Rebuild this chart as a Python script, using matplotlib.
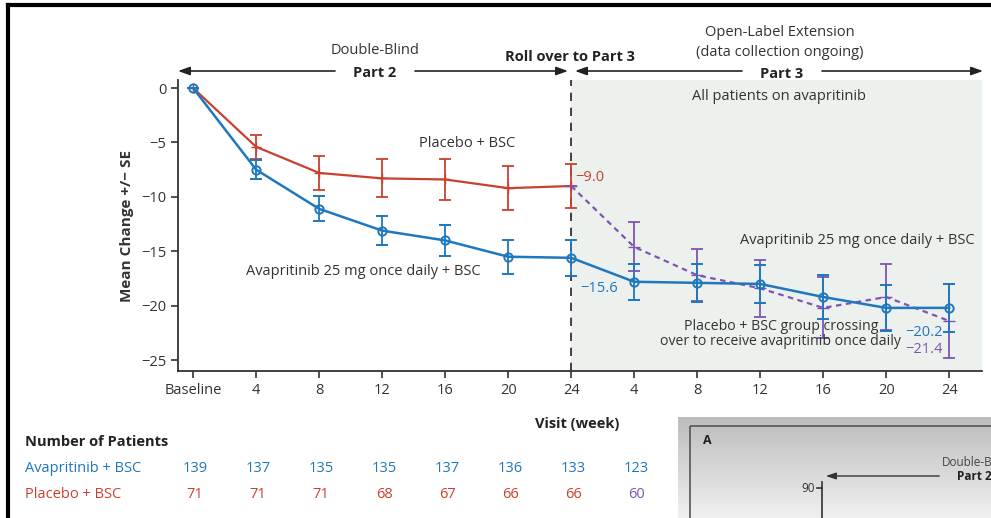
import numpy as np
import matplotlib
matplotlib.use("Agg")
import matplotlib.pyplot as plt
from matplotlib.patches import Rectangle, FancyArrowPatch
from matplotlib.lines import Line2D
from matplotlib.transforms import blended_transform_factory

# ---------------- data ----------------
tick_labels = ['Baseline', '4', '8', '12', '16', '20', '24',
               '4', '8', '12', '16', '20', '24']

# Avapritinib 25 mg + BSC (Part 2 + Part 3)
avap_x = list(range(13))
avap_mean = [0, -7.5, -11.1, -13.1, -14.0, -15.5, -15.6,
             -17.8, -17.9, -18.0, -19.2, -20.2, -20.2]
avap_se = [0, 0.85, 1.15, 1.35, 1.45, 1.55, 1.65,
           1.65, 1.75, 1.75, 2.0, 2.1, 2.2]

# Placebo + BSC (Part 2)
plac_x = list(range(7))
plac_mean = [0, -5.4, -7.8, -8.3, -8.4, -9.2, -9.0]
plac_se = [0, 1.1, 1.55, 1.75, 1.9, 2.05, 2.05]

# Placebo crossing over to avapritinib (Part 3)
cross_x = list(range(6, 13))
cross_mean = [-9.0, -14.6, -17.2, -18.4, -20.2, -19.2, -21.4]
cross_se = [0, 2.25, 2.4, 2.6, 2.8, 3.0, 3.4]

n_avap = [139, 137, 135, 135, 137, 136, 133, 123]
n_plac = [71, 71, 71, 68, 67, 66, 66, 60]

BLUE = '#1f77bd'
RED = '#c8412f'
PURPLE = '#7f54b3'
GREY = '#333333'

plt.rcParams['font.family'] = ['Open Sans', 'DejaVu Sans']
plt.rcParams['font.size'] = 10

W, H = 991, 518
fig = plt.figure(figsize=(W / 100, H / 100), dpi=100)


def fx(x):
    return x / W


def fy(y):
    return 1 - y / H


ax = fig.add_axes([fx(178), fy(371), fx(982) - fx(178), fy(80) - fy(371)])
ax.set_xlim(-0.24, 12.52)
ax.set_ylim(-26.0, 0.74)

# shaded part 3 region and roll-over line
ax.axvspan(6, 12.52, color='#edf1ee', zorder=0, lw=0)
ax.axvline(6, color='#222222', lw=1.2, ls=(0, (5, 4)), zorder=1)

# series
ax.errorbar(plac_x, plac_mean, yerr=plac_se, color=RED, lw=1.6,
            elinewidth=1.3, capsize=4, capthick=1.3, marker='+',
            markersize=7, zorder=3)
ax.errorbar(cross_x, cross_mean, yerr=cross_se, color=PURPLE, lw=1.6,
            ls=(0, (2.5, 2)), elinewidth=1.3, capsize=4, capthick=1.3,
            marker='_', markersize=9, zorder=3)
ax.errorbar(avap_x, avap_mean, yerr=avap_se, color=BLUE, lw=1.8,
            elinewidth=1.3, capsize=4, capthick=1.3, marker='o',
            markersize=6, markerfacecolor='none', markeredgewidth=1.4,
            zorder=4)

# axes styling
for s in ['top', 'right']:
    ax.spines[s].set_visible(False)
for s in ['left', 'bottom']:
    ax.spines[s].set_color(GREY)
    ax.spines[s].set_linewidth(1.3)
ax.set_xticks(range(13))
ax.set_xticklabels(tick_labels)
ax.set_yticks([0, -5, -10, -15, -20, -25])
ax.set_yticklabels(['0', '\u22125', '\u221210', '\u221215', '\u221220', '\u221225'])
ax.tick_params(direction='out', length=5, width=1.2, color=GREY,
               labelcolor=GREY, labelsize=10.5)
ax.set_ylabel('Mean Change +/\u2212 SE', fontsize=11, fontweight='bold',
              color=GREY, labelpad=5)

# in-plot annotations
ax.text(4.35, -5.1, 'Placebo + BSC', ha='center', va='center', color=GREY, fontsize=10.5)
ax.text(2.7, -16.9, 'Avapritinib 25 mg once daily + BSC', ha='center', va='center',
        color=GREY, fontsize=10.5)
ax.text(6.07, -8.2, '\u22129.0', ha='left', va='center', color=RED, fontsize=10.5)
ax.text(6.15, -18.4, '\u221215.6', ha='left', va='center', color=BLUE, fontsize=10.5)
ax.text(10.54, -14.0, 'Avapritinib 25 mg once daily + BSC', ha='center', va='center',
        color=GREY, fontsize=10.5)
ax.text(9.33, -22.6, 'Placebo + BSC group crossing\nover to receive avapritinib once daily',
        ha='center', va='center', color=GREY, fontsize=10.2, linespacing=0.95)
ax.text(11.3, -22.5, '\u221220.2', ha='left', va='center', color=BLUE, fontsize=10.5)
ax.text(11.3, -24.0, '\u221221.4', ha='left', va='center', color=PURPLE, fontsize=10.5)
ax.text(9.3, -0.75, 'All patients on avapritinib', ha='center', va='center',
        color=GREY, fontsize=10.5)

# header annotations (figure pixel positions)
fig.text(fx(375), fy(50), 'Double-Blind', ha='center', va='center', color=GREY, fontsize=10.5)
fig.text(fx(375), fy(73), 'Part 2', ha='center', va='center', color='#222222',
         fontsize=10.5, fontweight='bold')
fig.text(fx(570), fy(57), 'Roll over to Part 3', ha='center', va='center', color='#222222',
         fontsize=10.5, fontweight='bold')
fig.text(fx(780), fy(33), 'Open-Label Extension', ha='center', va='center', color=GREY, fontsize=10.5)
fig.text(fx(780), fy(52), '(data collection ongoing)', ha='center', va='center', color=GREY,
         fontsize=10.5)
fig.text(fx(782), fy(74), 'Part 3', ha='center', va='center', color='#222222',
         fontsize=10.5, fontweight='bold')

for x0, x1 in [(335, 178), (415, 568), (742, 575), (822, 983)]:
    fig.add_artist(FancyArrowPatch(
        (fx(x0), fy(71)), (fx(x1), fy(71)), transform=fig.transFigure,
        arrowstyle='-|>,head_length=0.7,head_width=0.25', mutation_scale=10,
        color='#222222', lw=1.2, shrinkA=0, shrinkB=0))

fig.text(fx(577), fy(424), 'Visit (week)', ha='center', va='center', color='#222222',
         fontsize=10.5, fontweight='bold')

# number at risk table
fig.text(fx(25), fy(442), 'Number of Patients', ha='left', va='center', color='#222222',
         fontsize=10.5, fontweight='bold')
fig.text(fx(25), fy(469), 'Avapritinib + BSC', ha='left', va='center', color=BLUE, fontsize=10.5)
fig.text(fx(25), fy(494), 'Placebo + BSC', ha='left', va='center', color=RED, fontsize=10.5)
tr = blended_transform_factory(ax.transData, fig.transFigure)
for i, (a, p) in enumerate(zip(n_avap, n_plac)):
    ax.text(i + 0.03, fy(469), str(a), transform=tr, ha='center', va='center',
            color=BLUE, fontsize=10.5, clip_on=False)
    ax.text(i + 0.03, fy(494), str(p), transform=tr, ha='center', va='center',
            color=PURPLE if i == 7 else RED, fontsize=10.5, clip_on=False)

# page border
fig.add_artist(Line2D([fx(8), 1], [fy(5), fy(5)], color='black', lw=3, transform=fig.transFigure))
fig.add_artist(Line2D([fx(8), fx(8)], [fy(5), 0], color='black', lw=3, transform=fig.transFigure))

# thumbnail of next panel (bottom right)
inset = fig.add_axes([fx(678), 0, 1 - fx(678), fy(417)])
inset.set_xlim(678, 991)
inset.set_ylim(518, 417)
inset.axis('off')
grad = np.linspace(0.74, 0.94, 50).reshape(-1, 1)
inset.imshow(grad, cmap='gray', vmin=0, vmax=1, extent=[678, 991, 518, 417], aspect='auto')
inset.add_patch(Rectangle((690, 426), 320, 100, facecolor='none', edgecolor='#555555', lw=1.2))
inset.text(703, 441, 'A', fontsize=9, fontweight='bold', color='#222222', va='center')
inset.text(942, 462, 'Double-Blind', fontsize=8.5, color='#444444', va='center', clip_on=True)
inset.text(957, 477, 'Part 2', fontsize=8.5, fontweight='bold', color='#222222', va='center',
           clip_on=True)
inset.annotate('', xy=(823, 476), xytext=(942, 476),
               arrowprops=dict(arrowstyle='-|>,head_length=0.6,head_width=0.2',
                               color='#333333', lw=1))
inset.plot([822, 822], [482, 518], color='#333333', lw=1.2)
inset.plot([817, 822], [488, 488], color='#333333', lw=1.2)
inset.text(815, 488, '90', fontsize=8.5, color='#333333', ha='right', va='center')

fig.savefig('out.png', dpi=100)
